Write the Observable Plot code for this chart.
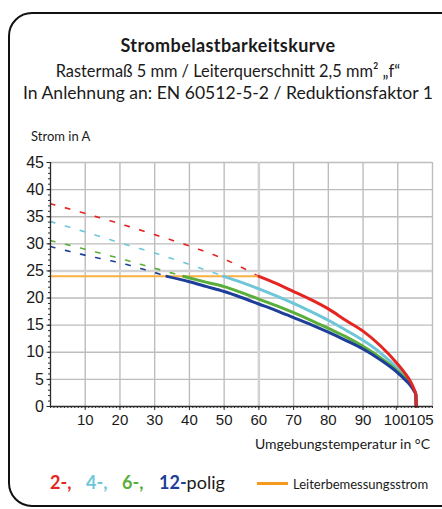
<!DOCTYPE html>
<html><head><meta charset="utf-8">
<script src="https://cdn.jsdelivr.net/npm/d3@7"></script>
<script src="https://cdn.jsdelivr.net/npm/@observablehq/plot@0.6"></script>
<style>
body{margin:0;background:#fff;}
#wrap{position:relative;width:442px;height:509px;overflow:hidden;font-family:Lato,"Open Sans",sans-serif;color:#1a1a1a;}
#frame{position:absolute;left:8px;top:12px;width:470px;height:495px;border:2px solid #111;border-radius:24px;box-sizing:border-box;}
.t{position:absolute;white-space:nowrap;line-height:20px;}
.c{left:0;width:456px;text-align:center;transform-origin:228px 50%;}
#chart{position:absolute;left:0;top:0;}
</style></head><body>
<div id="wrap">
  <div id="frame"></div>
  <div id="chart"></div>
  <div class="t c" style="top:35px;font-size:18px;font-weight:700;letter-spacing:0.4px;">Strombelastbarkeitskurve</div>
  <div class="t c" style="top:60px;font-size:18px;transform:scaleX(0.91);">Rastermaß 5 mm / Leiterquerschnitt 2,5 mm² „f“</div>
  <div class="t c" style="top:81.5px;font-size:18px;transform:scaleX(0.975);">In Anlehnung an: EN 60512-5-2 / Reduktionsfaktor 1</div>
  <div class="t" style="left:31px;top:126px;font-size:13px;">Strom in A</div>
  <div class="t" style="right:12px;top:434px;font-size:14px;">Umgebungstemperatur in °C</div>
  <div class="t" style="left:50px;top:472px;font-size:18px;"><b style="color:#e52521">2-,</b></div>
  <div class="t" style="left:86px;top:472px;font-size:18px;"><b style="color:#6ec6d9">4-,</b></div>
  <div class="t" style="left:122px;top:472px;font-size:18px;"><b style="color:#5aae3a">6-,</b></div>
  <div class="t" style="left:159px;top:472px;font-size:18px;"><b style="color:#1d3f99">12-</b>polig</div>
  <div style="position:absolute;left:257px;top:482px;width:31px;height:3px;background:#f59a1f;"></div>
  <div class="t" style="left:293px;top:474px;font-size:13px;">Leiterbemessungsstrom</div>
</div>
<script>
// tick labels / grid positions
const xTicks = [10,20,30,40,50,60,70,80,90];
const xTick100 = [100];
const xTickEnd = [105];
const yTicks = [0,5,10,15,20,25,30,35,40,45];
const gridXs = [10,20,30,40,50,60,70,80,90,100,110];
const gridYs = [5,10,15,20,25,30,35,40,45];
const emphX = [60];
const emphY = [25];

// series
const seriesNames = ["2-polig","4-polig","6-polig","12-polig"];
const seriesColors = ["#e52521","#6ec6d9","#5aae3a","#1d3f99"];

// dashed (extrapolated) parts
const t2Dash = [0,10,20,30,40,50,60];
const i2Dash = [37.4,35.6,33.7,31.7,29.6,27.2,24.0];
const t4Dash = [0,10,20,30,40,50];
const i4Dash = [34.1,32.2,30.2,28.3,26.2,24.0];
const t6Dash = [0,10,20,30,38.3];
const i6Dash = [30.6,29.0,27.3,25.5,24.0];
const t12Dash = [0,10,20,30,33.5];
const i12Dash = [29.5,27.9,26.5,24.7,24.0];

// solid parts
const t2 = [60,65,70,75,80,85,90,95,100,102,103.5,104.7,105.2,105.3];
const i2 = [24.0,22.7,21.2,19.7,18.0,15.9,13.9,11.2,7.8,6.2,4.8,3.2,2.2,0];
const t4 = [49.8,55,60,65,70,75,80,85,90,95,100,102,103.5,104.7,105.2,105.3];
const i4 = [24.0,22.9,21.7,20.4,19.0,17.5,15.9,14.1,12.2,9.9,7.0,5.6,4.4,3.0,2.2,0];
const t6 = [38.3,45,50,55,60,65,70,75,80,85,90,95,100,102,103.5,104.7,105.2,105.3];
const i6 = [24.0,22.9,22.1,21.0,19.8,18.6,17.3,15.9,14.4,12.9,11.1,9.0,6.5,5.3,4.2,2.9,2.2,0];
const t12 = [33.5,40,45,50,55,60,65,70,75,80,85,90,95,100,102,103.5,104.7,105.2,105.3];
const i12 = [24.0,23.0,22.1,21.2,20.1,18.9,17.7,16.4,15.1,13.7,12.2,10.6,8.6,6.2,5.0,4.0,2.9,2.2,0];

// rated conductor current
const ratedT = [0,60];
const ratedI = [24,24];

function rows(name, ts, is) { return ts.map((t, k) => ({s: name, t, i: is[k]})); }
const dashData = [
  ...rows("2-polig", t2Dash, i2Dash), ...rows("4-polig", t4Dash, i4Dash),
  ...rows("6-polig", t6Dash, i6Dash), ...rows("12-polig", t12Dash, i12Dash)
];
const solidData = [
  ...rows("4-polig", t4, i4), ...rows("6-polig", t6, i6),
  ...rows("12-polig", t12, i12), ...rows("2-polig", t2, i2)
];
const ratedData = ratedT.map((t, k) => ({t, i: ratedI[k]}));

const grid = "#bdbdbd";
const axisC = "#2a2a2a";
const chart = Plot.plot({
  width: 442, height: 509,
  marginLeft: 50, marginRight: 10, marginTop: 162, marginBottom: 103,
  x: {domain: [0,110]},
  y: {domain: [0,45]},
  color: {domain: seriesNames, range: seriesColors},
  style: {background: "transparent", fontFamily: "'Liberation Sans Narrow','Liberation Sans',sans-serif", color: "#1a1a1a"},
  marks: [
    Plot.gridX(gridXs, {stroke: grid, strokeOpacity: 1, strokeWidth: 1.4}),
    Plot.gridY(gridYs, {stroke: grid, strokeOpacity: 1, strokeWidth: 1.4}),
    Plot.gridX(emphX, {stroke: "#d2d2d2", strokeOpacity: 1, strokeWidth: 2.5}),
    Plot.gridY(emphY, {stroke: "#d2d2d2", strokeOpacity: 1, strokeWidth: 2.5}),
    Plot.line(dashData, {x: "t", y: "i", z: "s", stroke: "s", strokeWidth: 1.6, strokeDasharray: "4.5,11", curve: "monotone-x"}),
    Plot.line(ratedData, {x: "t", y: "i", stroke: "#fbb040", strokeWidth: 2}),
    Plot.line(solidData, {x: "t", y: "i", z: "s", stroke: "s", strokeWidth: 3, curve: "monotone-x"}),
    Plot.axisY(d3.range(0, 46), {tickSize: 2, text: null, label: null, stroke: axisC}),
    Plot.axisY(yTicks, {tickSize: 3.5, tickPadding: 3, fontSize: 16, label: null, stroke: axisC}),
    Plot.axisX(d3.range(0, 111), {tickSize: 2, text: null, label: null, stroke: axisC}),
    Plot.axisX(xTicks, {tickSize: 4, tickPadding: 4, fontSize: 15, label: null, stroke: axisC}),
    Plot.axisX(xTick100, {tickSize: 4, tickPadding: 4, dx: -1.5, fontSize: 15, label: null, stroke: axisC}),
    Plot.axisX(xTickEnd, {tickSize: 0, tickPadding: 8, dx: 6, fontSize: 15, label: null}),
    Plot.ruleX([0], {stroke: axisC, strokeWidth: 1.3}),
    Plot.ruleY([0], {stroke: axisC, strokeWidth: 1.3})
  ]
});
document.getElementById("chart").appendChild(chart);
</script>
</body></html>
